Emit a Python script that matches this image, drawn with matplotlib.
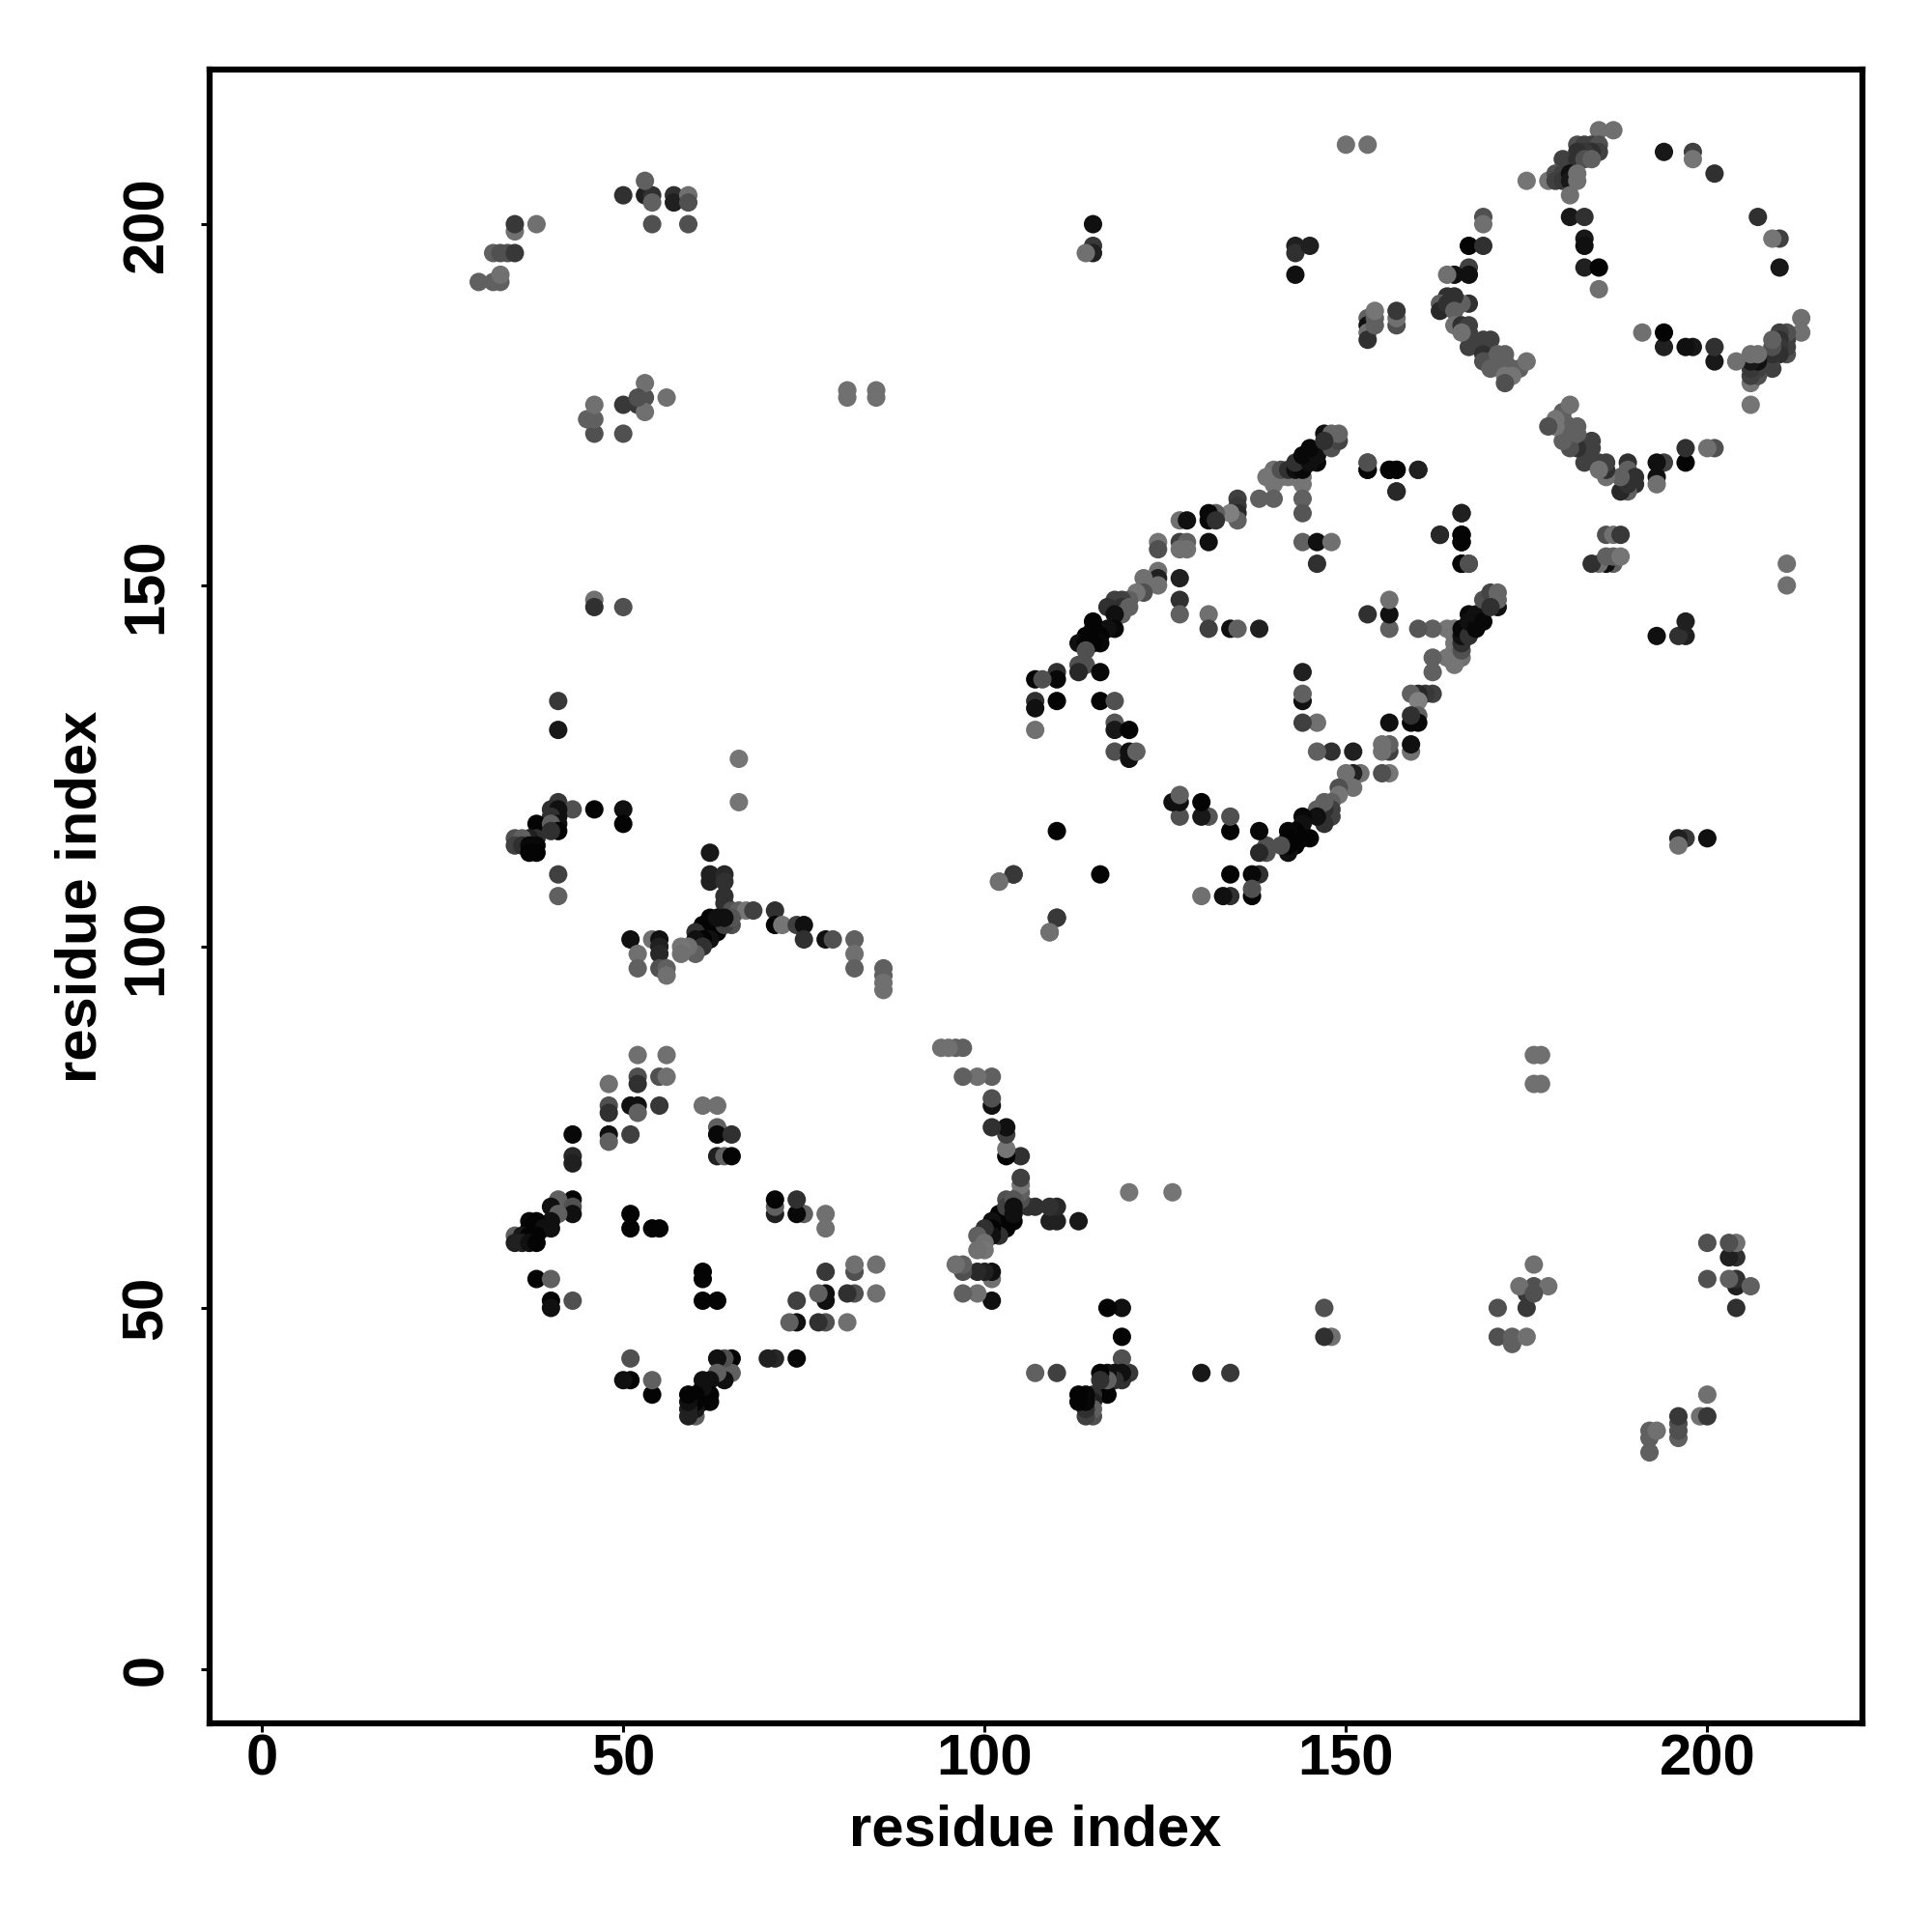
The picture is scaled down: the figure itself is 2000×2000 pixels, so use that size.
import matplotlib
matplotlib.use("Agg")
import matplotlib.pyplot as plt

# contacts are symmetric, only the i < j half is listed and mirrored below

# long range contacts
far_i = [30, 32, 33, 33, 32, 33, 34, 35, 35, 35, 38,
         50, 53, 54, 53, 54, 54, 57, 57, 59, 59, 59,
         46, 46, 45, 46, 50, 50, 52, 53, 53, 53, 56, 52,
         46, 46, 50,
         81, 81, 85, 85,
         115, 115, 115, 114,
         143, 143, 143, 145,
         150, 153,
         153, 153, 153, 153, 154, 154, 154, 157, 157, 157]
far_j = [192, 192, 192, 193, 196, 196, 196, 196, 199, 200, 200,
         204, 204, 204, 206, 203, 200, 204, 203, 204, 203, 200,
         171, 173, 173, 175, 171, 175, 175, 176, 178, 174, 176, 176,
         148, 147, 147,
         177, 176, 177, 176,
         200, 197, 196, 196,
         197, 196, 193, 197,
         211, 211,
         187, 186, 185, 184, 186, 187, 188, 186, 187, 188]
far_gray = [96, 96, 96, 112, 96, 80, 80, 56, 112, 56, 112,
            48, 32, 48, 96, 96, 80, 48, 32, 112, 80, 80,
            80, 96, 96, 112, 80, 56, 56, 80, 112, 112, 112, 80,
            112, 48, 80,
            112, 112, 112, 112,
            16, 56, 32, 112,
            32, 48, 16, 32,
            112, 112,
            96, 16, 112, 48, 96, 96, 117, 80, 112, 56]

# first ring, lower left
ring1_i = [52, 56, 48, 52, 52, 55, 56,
           48, 48, 51, 52, 52, 55,
           48, 48, 51, 43, 43, 43,
           61, 63, 63, 63, 65, 63, 64, 65,
           43, 41, 40, 43, 43, 41, 40, 37, 38, 37, 38, 39, 40,
           35, 36, 37, 38, 35, 36, 37, 38,
           51, 51, 54, 55,
           38, 40, 40, 40, 43]
ring1_j = [85, 85, 81, 82, 81, 82, 82,
           78, 77, 78, 78, 77, 78,
           74, 73, 74, 74, 71, 70,
           78, 78, 75, 74, 74, 71, 71, 71,
           65, 65, 64, 64, 63, 63, 62, 62, 62, 61, 61, 61, 61,
           60, 60, 60, 60, 59, 59, 59, 59,
           63, 61, 61, 61,
           54, 54, 51, 50, 51]
ring1_gray = [112, 112, 112, 80, 48, 80, 112,
              80, 48, 16, 16, 96, 56,
              16, 96, 64, 8, 40, 32,
              112, 112, 96, 8, 48, 32, 96, 4,
              4, 96, 16, 80, 16, 96, 16, 8, 4, 4, 4, 16, 16,
              96, 24, 4, 4, 32, 32, 16, 4,
              4, 4, 4, 4,
              4, 96, 4, 16, 80]

# arm around residue 40 / 100
arm_i = [41, 40, 43, 41, 46, 50, 50,
         41, 40, 38, 41, 40, 41, 40, 38, 37, 35, 36, 35, 36, 37, 38, 37, 38,
         41, 41, 41, 41, 66, 66,
         62, 62, 62, 64, 64, 64, 64, 65, 65, 66, 67, 68, 71, 71, 72, 74, 75, 75,
         78, 79, 82, 82, 82, 86, 86, 86, 86,
         62, 63, 61, 63, 62, 60, 61, 60, 61, 60, 59, 58, 58, 64, 65, 64, 63,
         51, 54, 55, 55, 55, 52, 52, 55, 56, 56]
arm_j = [120, 119, 119, 119, 119, 119, 117,
         118, 118, 117, 117, 117, 116, 116, 115, 115, 115, 115, 114, 114, 114, 114, 113, 113,
         110, 107, 134, 130, 126, 120,
         113, 110, 109, 110, 109, 107, 106, 105, 103, 105, 105, 105, 105, 103, 103, 103, 103, 101,
         101, 101, 101, 99, 97, 97, 96, 95, 94,
         104, 103, 103, 102, 101, 102, 101, 101, 100, 99, 100, 100, 99, 103, 104, 104, 104,
         101, 101, 101, 100, 99, 99, 97, 97, 97, 96]
arm_gray = [56, 48, 80, 16, 4, 16, 4,
            16, 48, 4, 16, 96, 4, 48, 48, 32, 80, 96, 64, 48, 8, 8, 4, 4,
            64, 96, 56, 24, 117, 117,
            24, 32, 32, 40, 48, 48, 48, 80, 80, 96, 117, 64, 48, 4, 117, 64, 16, 48,
            16, 80, 96, 112, 96, 96, 96, 112, 112,
            4, 4, 4, 4, 16, 48, 4, 16, 48, 96, 112, 117, 112, 64, 85, 16, 16,
            16, 112, 16, 32, 40, 112, 96, 80, 96, 112]

# second ring, middle (palest part of the band first, it sits under the dark one)
ring2_i = [140, 140, 141, 142, 143, 144, 139, 140, 144,
           144, 144, 141, 142, 143, 144, 143, 146, 145, 144, 146, 145, 147, 148, 149, 149, 148,
           138, 140, 135, 135, 135, 135, 134, 132, 131, 131, 132,
           127, 128, 127, 128, 127, 128, 131, 124, 124, 127, 127, 127,
           124, 124, 124, 122, 122, 121, 120, 119, 118, 117, 119, 120, 119, 118,
           118, 117, 115, 115, 116, 115, 114, 113, 114, 116, 115,
           114, 114, 113, 113, 116, 110, 110, 107, 108, 107, 107, 110, 116, 118, 107,
           118, 118, 120, 118, 120, 120, 121,
           131, 131, 134, 135, 138,
           144, 146, 148, 146,
           153, 153, 156, 157, 160, 157,
           160, 157, 157, 156, 153, 153,
           110, 104, 102, 110, 109, 147]
ring2_j = [166, 165, 165, 165, 165, 165, 165, 164, 164,
           162, 160, 166, 166, 166, 166, 167, 167, 167, 168, 168, 169, 171, 169, 170, 171, 171,
           162, 162, 162, 161, 160, 159, 160, 160, 160, 159, 159,
           159, 159, 156, 156, 155, 155, 156, 156, 155, 151, 148, 146,
           152, 151, 150, 151, 149, 149, 148, 148, 148, 147, 147, 147, 146, 146,
           144, 144, 145, 144, 143, 143, 143, 142, 142, 142, 142,
           141, 139, 139, 138, 138, 138, 137, 137, 137, 134, 133, 134, 134, 134, 130,
           131, 130, 130, 127, 127, 126, 127,
           146, 144, 144, 144, 144,
           156, 156, 156, 153,
           167, 166, 166, 166, 166, 163,
           166, 163, 166, 166, 166, 167,
           116, 110, 109, 104, 102, 170]
ring2_gray = [112, 117, 117, 117, 117, 117, 117, 117, 117,
              96, 85, 80, 48, 16, 8, 48, 8, 16, 8, 16, 8, 16, 80, 68, 102, 102,
              96, 96, 64, 56, 40, 96, 128, 96, 8, 8, 48,
              112, 16, 64, 96, 112, 112, 16, 117, 80, 32, 48, 96,
              112, 32, 112, 112, 80, 117, 96, 64, 64, 48, 48, 96, 96, 16,
              8, 16, 4, 4, 4, 4, 4, 16, 4, 8, 4,
              80, 80, 80, 40, 8, 48, 8, 4, 80, 48, 16, 4, 4, 80, 112,
              85, 24, 4, 80, 16, 16, 96,
              112, 64, 16, 96, 32,
              96, 16, 112, 48,
              80, 16, 4, 4, 32, 48,
              32, 40, 4, 4, 4, 80,
              4, 56, 112, 56, 112, 48]

# third ring, upper right
ring3_i = [185, 187, 182, 183, 184, 185, 185, 184, 183, 182, 180, 182, 183, 184,
           175, 178, 179, 179, 180, 180, 181, 181, 182, 182, 181,
           181, 183, 183, 183, 183, 185, 185,
           194, 198, 198, 201,
           169, 169, 167, 169, 167, 167, 165, 164,
           167, 166, 165, 164, 163, 163, 164, 165, 165, 166, 167, 167, 167, 166,
           169, 170, 169, 169, 169, 170, 170, 171, 172, 172, 173, 174, 175, 172, 172, 173, 172]
ring3_j = [213, 213, 211, 211, 211, 211, 210, 210, 210, 210, 209, 209, 209, 209,
           206, 206, 207, 206, 207, 206, 207, 206, 207, 206, 204,
           201, 201, 198, 197, 194, 194, 191,
           210, 210, 209, 207,
           201, 200, 197, 197, 194, 193, 193, 193,
           189, 189, 190, 190, 189, 188, 189, 188, 186, 186, 186, 185, 183, 185,
           184, 184, 183, 182, 181, 181, 180, 182, 182, 181, 180, 180, 181, 180, 179, 179, 178]
ring3_gray = [112, 112, 80, 64, 64, 80, 64, 48, 56, 48, 64, 48, 80, 96,
              117, 117, 80, 64, 64, 56, 16, 24, 112, 112, 112,
              24, 48, 24, 16, 32, 4, 112,
              24, 64, 117, 48,
              80, 112, 4, 48, 64, 16, 16, 112,
              48, 96, 48, 48, 96, 40, 48, 96, 112, 48, 64, 64, 64, 112,
              64, 64, 64, 48, 80, 80, 96, 96, 96, 96, 96, 96, 112, 96, 117, 117, 80]

contact_i = far_i + ring1_i + arm_i + ring2_i + ring3_i
contact_j = far_j + ring1_j + arm_j + ring2_j + ring3_j
contact_gray = far_gray + ring1_gray + arm_gray + ring2_gray + ring3_gray

tick_values = [0, 50, 100, 150, 200]

plt.rcParams['font.family'] = ['Liberation Sans', 'DejaVu Sans']
plt.rcParams['font.weight'] = 'bold'

fig = plt.figure(figsize=(20, 20), dpi=100)
ax = fig.add_axes([216.5 / 2000, 1 - 1784 / 2000, (1927.5 - 216.5) / 2000, (1784 - 72) / 2000])

colors = [(g / 255, g / 255, g / 255) for g in contact_gray]
ax.scatter(contact_i + contact_j, contact_j + contact_i, s=188, c=colors + colors,
           linewidths=0, zorder=3)

ax.set_xlim(-7.3, 221.4)
ax.set_ylim(-7.5, 221.4)
ax.set_xticks(tick_values)
ax.set_yticks(tick_values)
ax.tick_params(axis='x', length=6.3, width=2.2, labelsize=43, pad=1.5)
ax.tick_params(axis='y', length=6.3, width=2.2, labelsize=43, pad=20)
for lab in ax.get_yticklabels():
    lab.set_rotation(90)
    lab.set_va('center')
for s in ax.spines.values():
    s.set_linewidth(4.5)

ax.set_xlabel('residue index', fontsize=43, fontweight='bold')
ax.set_ylabel('residue index', fontsize=43, fontweight='bold')
ax.xaxis.set_label_coords(0.5, -0.0485)
ax.yaxis.set_label_coords(-0.0615, 0.5)

fig.savefig('out.png', dpi=100)
